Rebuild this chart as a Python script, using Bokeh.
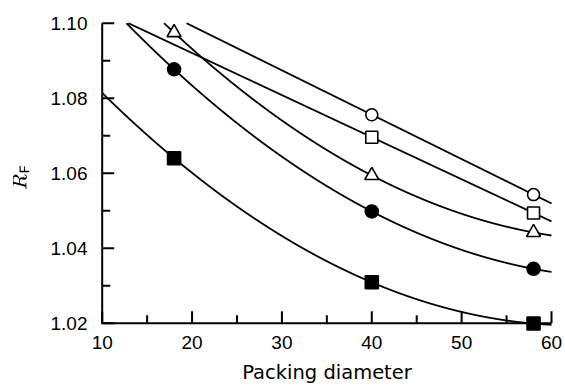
import numpy as np
from bokeh.plotting import figure
from bokeh.models import FixedTicker, Range1d, PrintfTickFormatter
from bokeh.embed import file_html
from bokeh.resources import INLINE

# ---- data ----
open_circle_x = [40, 58]
open_circle_y = [1.0756, 1.0543]
open_square_x = [40, 58]
open_square_y = [1.0696, 1.0494]
open_triangle_x = [18, 40, 58]
open_triangle_y = [1.0975, 1.0594, 1.0442]
filled_circle_x = [18, 40, 58]
filled_circle_y = [1.0877, 1.0498, 1.0345]
filled_square_x = [18, 40, 58]
filled_square_y = [1.0640, 1.0309, 1.0199]

x_major_ticks = [10, 20, 30, 40, 50, 60]
x_minor_ticks = [15, 25, 35, 45, 55]
y_major_ticks = [1.02, 1.04, 1.06, 1.08, 1.10]
y_minor_ticks = [1.03, 1.05, 1.07, 1.09]
x_title = "Packing diameter"
y_title = r"$$R_\mathsf{F}$$"

series = [
    (open_circle_x, open_circle_y, "circle", "white", 12),
    (open_square_x, open_square_y, "square", "white", 12),
    (open_triangle_x, open_triangle_y, "triangle", "white", 14),
    (filled_circle_x, filled_circle_y, "circle", "black", 13),
    (filled_square_x, filled_square_y, "square", "black", 13),
]

x0, x1 = x_major_ticks[0], x_major_ticks[-1]
y0, y1 = y_major_ticks[0], y_major_ticks[-1]

# frame slightly larger than the axes box so the axes and edge markers are not cut
p = figure(frame_width=455, frame_height=311,
           x_range=Range1d(9.6995, 60.3335), y_range=Range1d(1.01752, 1.100453),
           output_backend="svg", toolbar_location=None,
           min_border_left=99, min_border_right=11,
           min_border_top=21, min_border_bottom=56)
p.outline_line_color = None
p.grid.visible = False

# axis box drawn as one L-shaped polyline at the data positions of the axes
p.line(x=[x0, x0, x1], y=[y1, y0, y0], line_color="black", line_width=2,
       line_join="miter")
p.ray(x=x_major_ticks, y=[y0] * len(x_major_ticks), length=12, angle=np.pi / 2,
      length_units="screen", line_color="black", line_width=2)
p.ray(x=x_minor_ticks, y=[y0] * len(x_minor_ticks), length=8, angle=np.pi / 2,
      length_units="screen", line_color="black", line_width=2)
p.ray(x=[x0] * len(y_major_ticks), y=y_major_ticks, length=12, angle=0,
      length_units="screen", line_color="black", line_width=2)
p.ray(x=[x0] * len(y_minor_ticks), y=y_minor_ticks, length=8, angle=0,
      length_units="screen", line_color="black", line_width=2)

# fitted curves through each series' points (trend lines), shown inside the axes box
xx = np.linspace(x0, x1, 4001)
for xs, ys, mk, fc, sz in series:
    coef = np.polyfit(xs, ys, len(xs) - 1)
    yy = np.polyval(coef, xx)
    yy[yy > y1] = np.nan
    p.line(xx, yy, line_color="black", line_width=1.8)

for xs, ys, mk, fc, sz in series:
    p.scatter(xs, ys, marker=mk, size=sz, fill_color=fc,
              line_color="black", line_width=1.6)

for ax in (p.xaxis[0], p.yaxis[0]):
    ax.axis_line_color = None
    ax.major_tick_line_color = None
    ax.minor_tick_line_color = None
    ax.major_tick_in = 0
    ax.major_tick_out = 0
    ax.minor_tick_in = 0
    ax.minor_tick_out = 0
    ax.major_label_text_font = "Liberation Sans"
    ax.major_label_text_font_size = "19px"
    ax.major_label_text_color = "black"

xa = p.xaxis[0]
xa.ticker = FixedTicker(ticks=x_major_ticks, minor_ticks=x_minor_ticks)
xa.formatter = PrintfTickFormatter(format="%d")
xa.major_label_standoff = 3
xa.axis_label = x_title
xa.axis_label_text_font = "DejaVu Sans"
xa.axis_label_text_font_size = "19.5px"
xa.axis_label_text_font_style = "normal"
xa.axis_label_text_color = "black"
xa.axis_label_standoff = 9

ya = p.yaxis[0]
ya.ticker = FixedTicker(ticks=y_major_ticks, minor_ticks=y_minor_ticks)
ya.formatter = PrintfTickFormatter(format="%.2f")
ya.major_label_standoff = 12
ya.axis_label = y_title
ya.axis_label_text_font_size = "17px"
ya.axis_label_text_color = "black"
ya.axis_label_standoff = 16

open("out.html", "w").write(file_html(p, INLINE))
